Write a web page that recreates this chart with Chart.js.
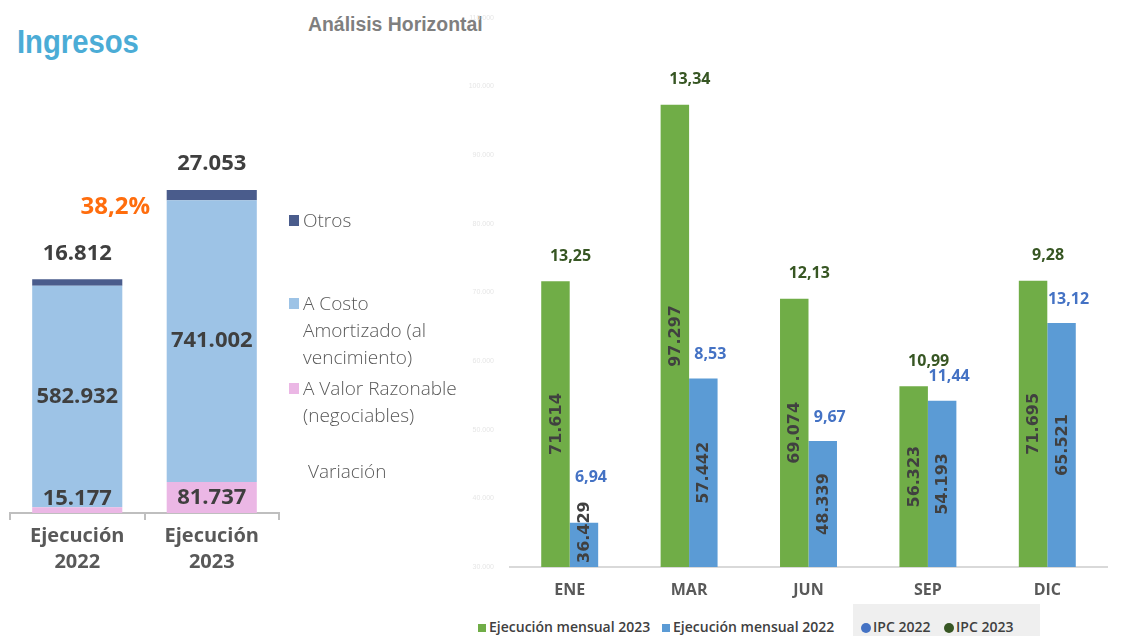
<!DOCTYPE html>
<html lang="es">
<head>
<meta charset="utf-8">
<title>Ingresos - Análisis Horizontal</title>
<script src="https://cdn.jsdelivr.net/npm/chart.js@4.4.1/dist/chart.umd.min.js"></script>
<style>
    html, body {
        margin: 0;
        padding: 0;
        background: #fff;
        width: 1123px;
        height: 636px;
        overflow: hidden;
        position: relative;
        font-family: "Open Sans", sans-serif;
    }
    #titulo {
        position: absolute; left: 17px; top: 22px;
        font: bold 34px "Liberation Sans", Arial, sans-serif;
        color: #4BACD6;
        transform: scaleX(0.86);
        transform-origin: left top;
    }
    #subtitulo {
        position: absolute; left: 308px; top: 13px;
        font: bold 20px "Liberation Sans", Arial, sans-serif;
        color: #7f7f7f;
        transform: scaleX(0.97);
        transform-origin: left top;
    }
    #cIngresos { position: absolute; left: 0; top: 120px; }
    #cMensual { position: absolute; left: 460px; top: 0; }
    .item {
        position: absolute; left: 289px;
        font-size: 19px; line-height: 27px; font-weight: 300;
        color: #595959;
    }
    .item .cuadro { position: absolute; left: 0; top: 8px; width: 10px; height: 11px; }
    .item .texto { margin-left: 14px; }
    .pie {
        position: absolute; top: 616px; height: 22px; line-height: 22px;
        font-size: 14px; font-weight: 600; color: #404040; white-space: nowrap;
    }
    .pie .marca { display: inline-block; width: 8px; height: 8px; margin-right: 3px; vertical-align: 0; }
    .pie .punto { display: inline-block; width: 10px; height: 10px; border-radius: 50%; margin-right: 2px; vertical-align: -1px; }
    #cajaIpc { position: absolute; left: 853px; top: 604px; width: 187px; height: 32px; background: #efefef; }
</style>
</head>
<body>
<div id="titulo">Ingresos</div>
<div id="subtitulo">Análisis Horizontal</div>

<canvas id="cIngresos" width="290" height="470"></canvas>
<canvas id="cMensual" width="675" height="600"></canvas>

<div class="item" style="top:207px"><span class="cuadro" style="background:#4A5C8C"></span><div class="texto">Otros</div></div>
<div class="item" style="top:290px"><span class="cuadro" style="background:#9DC3E6"></span><div class="texto">A Costo<br>Amortizado (al<br>vencimiento)</div></div>
<div class="item" style="top:375px"><span class="cuadro" style="background:#EBB7E5"></span><div class="texto">A Valor Razonable<br>(negociables)</div></div>
<div class="item" style="top:458px; left:294px"><div class="texto">Variación</div></div>

<div id="cajaIpc"></div>
<div class="pie" style="left:478px"><span class="marca" style="background:#70AD47"></span>Ejecución mensual 2023</div>
<div class="pie" style="left:662px"><span class="marca" style="background:#5B9BD5"></span>Ejecución mensual 2022</div>
<div class="pie" style="left:861px"><span class="punto" style="background:#4472C4"></span>IPC 2022</div>
<div class="pie" style="left:944px"><span class="punto" style="background:#375623"></span>IPC 2023</div>

<script>
// Datos - Ingresos (stacked)
const periodos = [['Ejecución', '2022'], ['Ejecución', '2023']];
const valorRazonable = [15177, 81737];
const costoAmortizado = [582932, 741002];
const otros = [16812, 27053];

// Datos - Análisis horizontal
const meses = ['ENE', 'MAR', 'JUN', 'SEP', 'DIC'];
const ejecucion2023 = [71614, 97297, 69074, 56323, 71695];
const ejecucion2022 = [36429, 57442, 48339, 54193, 65521];
const ipc2023 = [13.25, 13.34, 12.13, 10.99, 9.28];
const ipc2022 = [6.94, 8.53, 9.67, 11.44, 13.12];

// Function to format thousands with dot
const miles = (v) => String(Math.round(v)).replace(/\B(?=(\d{3})+(?!\d))/g, '.');
const decimal = (v, d) => v.toFixed(d).replace('.', ',');

// Variation of the totals
const total = (i) => valorRazonable[i] + costoAmortizado[i] + otros[i];
const variacion = decimal((total(1) / total(0) - 1) * 100, 1) + '%';

// Plugin for the labels of the stacked chart
const etiquetasIngresos = {
    id: 'etiquetasIngresos',
    afterDatasetsDraw(chart) {
        const ctx = chart.ctx;
        ctx.save();
        ctx.font = 'bold 22px "Open Sans"';
        ctx.fillStyle = '#3f3f3f';
        ctx.textAlign = 'center';
        ctx.textBaseline = 'middle';
        chart.data.datasets.forEach((ds, i) => {
            chart.getDatasetMeta(i).data.forEach((bar, j) => {
                let y = (bar.y + bar.base) / 2;
                if (i === 0) y = Math.min(y, bar.base - 14);
                if (i === 2) y = bar.y - 26;
                ctx.fillText(miles(ds.data[j]), bar.x, y);
            });
        });
        const b0 = chart.getDatasetMeta(2).data[0];
        const b1 = chart.getDatasetMeta(2).data[1];
        ctx.font = 'bold 24px "Open Sans"';
        ctx.fillStyle = '#FF6D0D';
        ctx.fillText(variacion, b0.x + 38, b1.y + 17);
        ctx.restore();
    }
};

// Plugin for the labels of the monthly chart
const etiquetasMensual = {
    id: 'etiquetasMensual',
    afterDatasetsDraw(chart) {
        const ctx = chart.ctx;
        const abajo = chart.chartArea.bottom;
        const topes = [[], []];
        ctx.save();
        ctx.textAlign = 'center';
        ctx.textBaseline = 'middle';
        // values inside the bars
        ctx.font = 'bold 16px "DejaVu Sans"';
        ctx.fillStyle = '#404040';
        [0, 1].forEach(i => {
            const ds = chart.data.datasets[i];
            chart.getDatasetMeta(i).data.forEach((bar, j) => {
                const txt = miles(ds.data[j]);
                const w = ctx.measureText(txt).width;
                const base = Math.min(bar.base, abajo);
                const y = Math.min((bar.y + base) / 2, base - 4 - w / 2);
                topes[i][j] = Math.min(bar.y, y - w / 2);
                ctx.save();
                ctx.translate(bar.x + 1, y);
                ctx.rotate(-Math.PI / 2);
                ctx.fillText(txt, 0, 0);
                ctx.restore();
            });
        });
        // IPC labels above the bars
        ctx.font = 'bold 16px "Open Sans"';
        const barras2023 = chart.getDatasetMeta(0).data;
        const barras2022 = chart.getDatasetMeta(1).data;
        ctx.fillStyle = '#375623';
        ipc2023.forEach((v, j) => {
            ctx.fillText(decimal(v, 2), barras2023[j].x + 15, topes[0][j] - 25);
        });
        ctx.fillStyle = '#4472C4';
        ipc2022.forEach((v, j) => {
            ctx.fillText(decimal(v, 2), barras2022[j].x + 7, topes[1][j] - 24);
        });
        ctx.restore();
    }
};

// Chart Ingresos
const ctxIngresos = document.getElementById('cIngresos').getContext('2d');
new Chart(ctxIngresos, {
    type: 'bar',
    data: {
        labels: periodos,
        datasets: [
            { label: 'A Valor Razonable (negociables)', data: valorRazonable, backgroundColor: '#EBB7E5' },
            { label: 'A Costo Amortizado (al vencimiento)', data: costoAmortizado, backgroundColor: '#9DC3E6' },
            { label: 'Otros', data: otros, backgroundColor: '#4A5C8C' }
        ]
    },
    options: {
        responsive: false,
        animation: false,
        barPercentage: 1,
        categoryPercentage: 0.67,
        layout: { padding: { top: 51, left: 10, right: 11, bottom: 0 } },
        plugins: { legend: { display: false }, tooltip: { enabled: false } },
        scales: {
            x: {
                stacked: true,
                afterFit: (s) => { s.height = 77; },
                grid: { display: true, drawOnChartArea: false, offset: true, tickLength: 7, color: '#bfbfbf', lineWidth: 2 },
                border: { color: '#bfbfbf', width: 2 },
                ticks: { color: '#595959', padding: 3, font: { family: 'Open Sans', size: 20, weight: 'bold', lineHeight: 1.3 } }
            },
            y: { stacked: true, display: false, min: 0, max: 900000 }
        }
    },
    plugins: [etiquetasIngresos]
});

// Chart Análisis horizontal
const ctxMensual = document.getElementById('cMensual').getContext('2d');
new Chart(ctxMensual, {
    type: 'bar',
    data: {
        labels: meses,
        datasets: [
            { label: 'Ejecución mensual 2023', data: ejecucion2023, backgroundColor: '#70AD47', yAxisID: 'y' },
            { label: 'Ejecución mensual 2022', data: ejecucion2022, backgroundColor: '#5B9BD5', yAxisID: 'y' },
            { type: 'line', label: 'IPC 2022', data: ipc2022, yAxisID: 'y1', showLine: false, pointRadius: 0, borderColor: '#4472C4' },
            { type: 'line', label: 'IPC 2023', data: ipc2023, yAxisID: 'y1', showLine: false, pointRadius: 0, borderColor: '#375623' }
        ]
    },
    options: {
        responsive: false,
        animation: false,
        barPercentage: 1,
        categoryPercentage: 0.477,
        layout: { padding: { top: 10 } },
        plugins: { legend: { display: false }, tooltip: { enabled: false } },
        scales: {
            x: {
                afterFit: (s) => { s.height = 33; },
                grid: { display: false, drawTicks: false },
                border: { color: '#d9d9d9', width: 2 },
                ticks: { color: '#595959', padding: 14, font: { family: 'Open Sans', size: 16, weight: 'bold' } }
            },
            y: {
                min: 30000,
                max: 110000,
                afterFit: (s) => { s.width = 50; },
                grid: { display: false },
                border: { display: false },
                ticks: { stepSize: 10000, padding: 8, color: '#e6e6e6', font: { size: 7 }, callback: (v) => miles(v) }
            },
            y1: {
                position: 'right',
                min: 6,
                max: 14,
                afterFit: (s) => { s.width = 28; },
                grid: { display: false },
                border: { display: false },
                ticks: { stepSize: 1, padding: 11, color: '#eeeeee', font: { size: 11 } }
            }
        }
    },
    plugins: [etiquetasMensual]
});
</script>
</body>
</html>
